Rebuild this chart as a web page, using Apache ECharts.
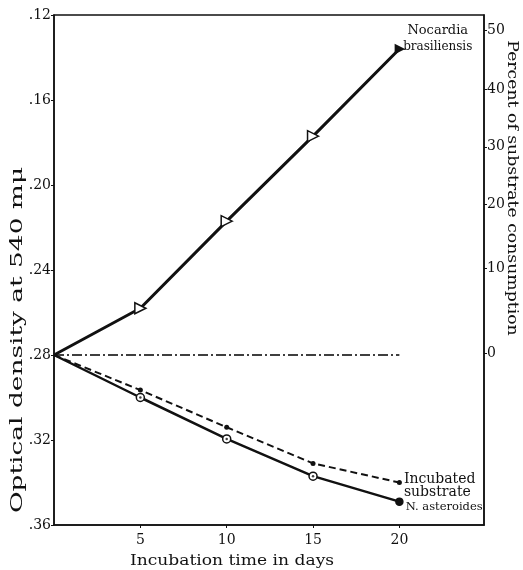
<!DOCTYPE html>
<html>
<head>
<meta charset="utf-8">
<script src="https://cdn.jsdelivr.net/npm/echarts@6/dist/echarts.min.js"></script>
<style>
html,body{margin:0;padding:0;background:#fff;}
#c{width:523px;height:570px;}
</style>
</head>
<body>
<div id="c"></div>
<script>
// ---- data ----
const days = [0, 5, 10, 15, 20];
const nocardiaOD = [0.28, 0.258, 0.217, 0.177, 0.136];
const asteroidesOD = [0.28, 0.300, 0.3195, 0.337, 0.349];
const incubatedOD = [0.28, 0.2965, 0.314, 0.331, 0.340];
const originalOD = [0.28, 0.28, 0.28, 0.28, 0.28];
const xTickLabels = [5, 10, 15, 20];
const percentTicks = [0, 10, 20, 30, 40, 50];
const percentTickOD = [0.279, 0.239, 0.209, 0.182, 0.155, 0.127];

const FONT = 'DejaVu Serif';
const INK = '#111';

function pairs(ys) { return days.map((d, i) => [d, ys[i]]); }

const chart = echarts.init(document.getElementById('c'), null, {renderer: 'canvas'});

const nocData = pairs(nocardiaOD).map((p, i) => {
  if (i === 0) return {value: p, symbol: 'none'};
  if (i === days.length - 1) return {value: p, symbol: 'triangle', symbolSize: 8, symbolRotate: -90,
    itemStyle: {color: INK},
    label: {show: true, position: 'right', distance: 2, offset: [-3, -10],
      formatter: '{a|Nocardia}\n{b|brasiliensis}',
      rich: {a: {fontSize: 13, fontFamily: FONT, color: INK, lineHeight: 16, align: 'center'},
             b: {fontSize: 12, fontFamily: FONT, color: INK, lineHeight: 16, align: 'center'}}}};
  return {value: p};
});

const astData = pairs(asteroidesOD).map((p, i) => {
  if (i === 0) return {value: p, symbol: 'none'};
  if (i === days.length - 1) return {value: p, symbol: 'circle', symbolSize: 7, itemStyle: {color: INK},
    label: {show: true, position: 'right', distance: 2, offset: [0, 5], formatter: 'N. asteroides',
      fontSize: 11.5, fontFamily: FONT, color: INK}};
  return {value: p};
});

const incData = pairs(incubatedOD).map((p, i) => {
  if (i === 0) return {value: p, symbol: 'none'};
  if (i === days.length - 1) return {value: p,
    label: {show: true, position: 'right', distance: 2, offset: [0, 3], formatter: 'Incubated\nsubstrate',
      fontSize: 14, lineHeight: 13, fontFamily: FONT, color: INK}};
  return {value: p};
});

const origData = pairs(originalOD).map((p, i) => {
  if (i === days.length - 1) return {value: p,
    label: {show: true, position: 'right', distance: 0, offset: [-4, 0], formatter: 'Original\nsubstrate',
      fontSize: 14, lineHeight: 22, fontFamily: FONT, color: INK}};
  return {value: p};
});

const option = {
  animation: false,
  backgroundColor: '#fff',
  grid: {left: 54, right: 39, top: 15, bottom: 45, show: true, borderColor: INK, borderWidth: 1.5, backgroundColor: 'transparent'},
  xAxis: {
    type: 'value', min: 0, max: 24.9,
    axisLine: {show: true, lineStyle: {color: INK, width: 1.5}},
    axisTick: {show: true, length: 3, customValues: xTickLabels, lineStyle: {color: INK}},
    axisLabel: {customValues: xTickLabels, fontFamily: FONT, fontSize: 14, color: INK, margin: 8},
    splitLine: {show: false}
  },
  yAxis: [
    {
      type: 'value', inverse: true, min: 0.12, max: 0.36, interval: 0.04, position: 'left',
      axisLine: {show: true, lineStyle: {color: INK, width: 1.5}},
      axisTick: {show: true, length: 3, lineStyle: {color: INK}},
      axisLabel: {fontFamily: FONT, fontSize: 14, color: INK, margin: 3,
        formatter: v => v.toFixed(2).replace(/^0/, '')},
      splitLine: {show: false}
    },
    {
      type: 'value', inverse: true, min: 0.12, max: 0.36, position: 'right',
      axisLine: {show: true, lineStyle: {color: INK, width: 1.5}},
      axisTick: {show: true, length: 3, customValues: percentTickOD, lineStyle: {color: INK}},
      axisLabel: {customValues: percentTickOD, fontFamily: FONT, fontSize: 14, color: INK, margin: 3,
        formatter: v => {
          let best = 0;
          percentTickOD.forEach((o, i) => { if (Math.abs(o - v) < Math.abs(percentTickOD[best] - v)) best = i; });
          return String(percentTicks[best]);
        }},
      splitLine: {show: false}
    }
  ],
  graphic: [
    {type: 'text', x: 18, y: 340, rotation: Math.PI / 2, scaleX: 1.65,
      style: {text: 'Optical density at 540 m\u03bc', font: '16px "DejaVu Serif"', fill: INK, align: 'center', verticalAlign: 'middle'}},
    {type: 'text', x: 512, y: 188, rotation: -Math.PI / 2, scaleX: 1.15,
      style: {text: 'Percent of substrate consumption', font: '15px "DejaVu Serif"', fill: INK, align: 'center', verticalAlign: 'middle'}},
    {type: 'text', x: 232, y: 561, scaleX: 1.14,
      style: {text: 'Incubation time in days', font: '15px "DejaVu Serif"', fill: INK, align: 'center', verticalAlign: 'middle'}}
  ],
  series: [
    {type: 'line', name: 'Original substrate', data: origData, showSymbol: false, symbol: 'none',
      lineStyle: {color: '#000', width: 1.3, type: [10, 3, 2, 3]}, z: 2},
    {type: 'line', name: 'Nocardia brasiliensis', data: nocData, symbol: 'triangle', symbolSize: 11, symbolRotate: -90,
      itemStyle: {color: '#fff', borderColor: INK, borderWidth: 1.5},
      lineStyle: {color: INK, width: 3}, z: 3},
    {type: 'line', name: 'Incubated substrate', data: incData, symbol: 'circle', symbolSize: 5,
      itemStyle: {color: INK},
      lineStyle: {color: INK, width: 2, type: [7, 4]}, z: 3},
    {type: 'line', name: 'N. asteroides', data: astData, symbol: 'circle', symbolSize: 8,
      itemStyle: {color: '#fff', borderColor: INK, borderWidth: 1.5},
      lineStyle: {color: INK, width: 2.5}, z: 4},
    {type: 'scatter', name: 'asteroides centres', data: pairs(asteroidesOD).slice(1, 4), symbol: 'circle', symbolSize: 2.5,
      itemStyle: {color: INK}, z: 5, silent: true}
  ]
};
chart.setOption(option);
</script>
</body>
</html>
